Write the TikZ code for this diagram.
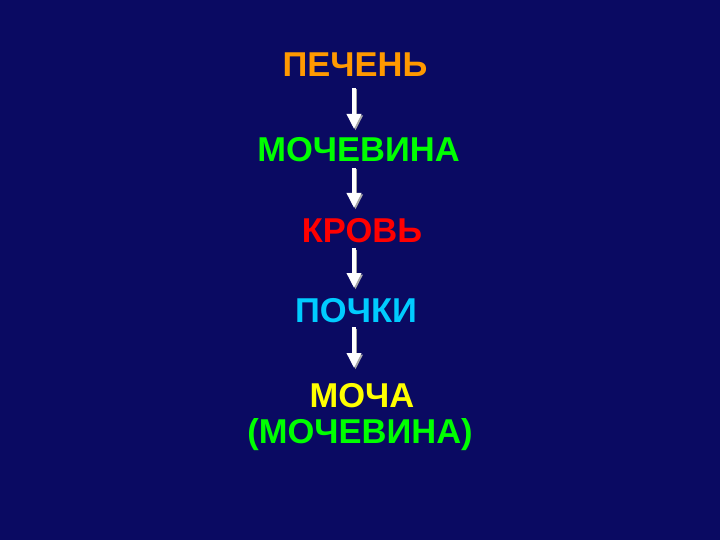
\documentclass[tikz,border=0pt]{standalone}
\usepackage{fontspec}
\setmainfont{Liberation Sans}
\usetikzlibrary{arrows.meta}
\definecolor{bg}{HTML}{0A0A62}
\definecolor{corange}{HTML}{FF9900}
\definecolor{cgreen}{HTML}{00FF00}
\definecolor{cred}{HTML}{FF0000}
\definecolor{ccyan}{HTML}{00CCFF}
\definecolor{cyellow}{HTML}{FFFF00}
\tikzset{
  lbl/.style={font=\fontsize{34.5}{40}\selectfont\bfseries, inner sep=0pt, anchor=base},
  arr/.style={white, line width=3.5pt, -{Triangle[width=14pt,length=15pt]}},
  arrsh/.style={gray!70, line width=3.5pt, -{Triangle[width=14pt,length=15pt]}}
}
\begin{document}
\begin{tikzpicture}[x=1pt,y=-1pt]
\fill[bg] (0,0) rectangle (720,540);
\useasboundingbox (0,0) rectangle (720,540);
\node[lbl, text=corange] (a) at (355,77) {ПЕЧЕНЬ};
\node[lbl, text=cgreen] (b) at (358.5,162) {МОЧЕВИНА};
\node[lbl, text=cred] (c) at (362,242) {КРОВЬ};
\node[lbl, text=ccyan] (d) at (356,322) {ПОЧКИ};
\node[lbl, text=cyellow] (e) at (362,407) {МОЧА};
\node[lbl, text=cgreen] (f) at (360,443) {(МОЧЕВИНА)};
\coordinate (a1) at (354,88);  \coordinate (a2) at (354,129);
\coordinate (b1) at (354,168); \coordinate (b2) at (354,208);
\coordinate (c1) at (354,248); \coordinate (c2) at (354,288);
\coordinate (d1) at (354,327); \coordinate (d2) at (354,368);
\foreach \s/\t in {a1/a2,b1/b2,c1/c2,d1/d2}{
  \draw[arrsh] ([shift={(1.5,1.5)}]\s) -- ([shift={(1.5,1.5)}]\t);
  \draw[arr] (\s) -- (\t);
}
\end{tikzpicture}
\end{document}
